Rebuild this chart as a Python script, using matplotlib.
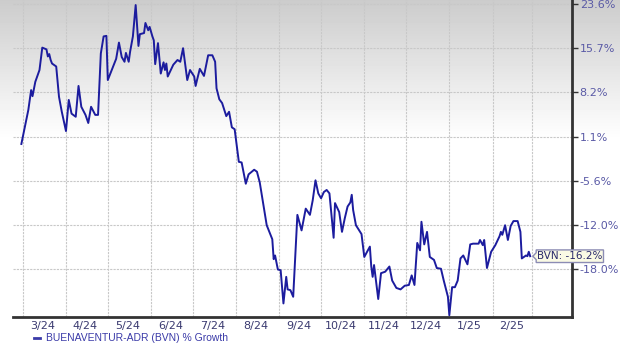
import numpy as np
import pandas as pd
import matplotlib
matplotlib.use('Agg')
import matplotlib.pyplot as plt
import matplotlib.dates as mdates
import matplotlib.ticker as mticker
from matplotlib.transforms import ScaledTranslation
from matplotlib.patches import Polygon
from matplotlib.lines import Line2D

# BVN % growth since end of Feb 2024
dates = [
    '2024-02-29', '2024-03-05', '2024-03-07', '2024-03-08', '2024-03-10', '2024-03-13', '2024-03-15',
    '2024-03-18', '2024-03-19', '2024-03-20', '2024-03-21', '2024-03-22', '2024-03-25', '2024-03-27',
    '2024-03-29', '2024-04-01', '2024-04-03', '2024-04-05', '2024-04-08', '2024-04-10', '2024-04-12',
    '2024-04-15', '2024-04-17', '2024-04-19', '2024-04-22', '2024-04-24', '2024-04-26', '2024-04-28',
    '2024-04-30', '2024-05-01', '2024-05-07', '2024-05-09', '2024-05-11', '2024-05-13', '2024-05-14',
    '2024-05-16', '2024-05-17', '2024-05-19', '2024-05-21', '2024-05-23', '2024-05-24', '2024-05-27',
    '2024-05-28', '2024-05-30', '2024-05-31', '2024-06-02', '2024-06-03', '2024-06-04', '2024-06-06',
    '2024-06-08', '2024-06-10', '2024-06-11', '2024-06-12', '2024-06-13', '2024-06-17', '2024-06-20',
    '2024-06-22', '2024-06-24', '2024-06-27', '2024-06-29', '2024-07-02', '2024-07-03', '2024-07-04',
    '2024-07-06', '2024-07-09', '2024-07-12', '2024-07-15', '2024-07-17', '2024-07-18', '2024-07-20',
    '2024-07-22', '2024-07-24', '2024-07-25', '2024-07-27', '2024-07-29', '2024-07-31', '2024-08-03',
    '2024-08-05', '2024-08-08', '2024-08-10', '2024-08-14', '2024-08-16', '2024-08-18', '2024-08-23',
    '2024-08-27', '2024-08-28', '2024-08-29', '2024-08-31', '2024-09-02', '2024-09-04', '2024-09-06',
    '2024-09-07', '2024-09-09', '2024-09-11', '2024-09-14', '2024-09-17', '2024-09-20', '2024-09-23',
    '2024-09-25', '2024-09-27', '2024-09-29', '2024-10-01', '2024-10-03', '2024-10-05', '2024-10-07',
    '2024-10-10', '2024-10-11', '2024-10-14', '2024-10-16', '2024-10-18', '2024-10-20', '2024-10-22',
    '2024-10-23', '2024-10-24', '2024-10-26', '2024-10-30', '2024-11-01', '2024-11-05', '2024-11-06',
    '2024-11-07', '2024-11-08', '2024-11-11', '2024-11-13', '2024-11-16', '2024-11-19', '2024-11-21',
    '2024-11-24', '2024-11-27', '2024-11-30', '2024-12-03', '2024-12-05', '2024-12-07', '2024-12-09',
    '2024-12-11', '2024-12-12', '2024-12-14', '2024-12-16', '2024-12-18', '2024-12-21', '2024-12-23',
    '2024-12-26', '2024-12-28', '2024-12-31', '2025-01-01', '2025-01-03', '2025-01-05', '2025-01-07',
    '2025-01-09', '2025-01-11', '2025-01-14', '2025-01-16', '2025-01-18', '2025-01-22', '2025-01-23',
    '2025-01-25', '2025-01-26', '2025-01-28', '2025-01-31', '2025-02-03', '2025-02-06', '2025-02-07',
    '2025-02-08', '2025-02-10', '2025-02-12', '2025-02-14', '2025-02-16', '2025-02-19', '2025-02-21',
    '2025-02-22', '2025-02-25', '2025-02-26', '2025-02-27', '2025-02-28',
]
growth = [
    0.0, 5.4, 8.6, 7.6, 10.0, 12.0, 15.8,
    15.5, 14.3, 14.7, 13.7, 13.1, 12.6, 7.5,
    5.1, 2.0, 7.0, 4.8, 4.3, 9.3, 5.9,
    4.6, 3.3, 5.9, 4.6, 4.6, 14.8, 17.8,
    17.9, 10.3, 13.9, 16.7, 14.2, 13.4, 14.9,
    13.4, 15.1, 17.8, 23.4, 16.1, 18.2, 18.4,
    20.2, 18.9, 19.5, 17.8, 17.1, 13.0, 16.6,
    11.4, 13.3, 12.0, 13.1, 10.9, 12.9, 13.7,
    13.4, 15.7, 10.3, 12.0, 10.9, 9.3, 10.3,
    12.2, 11.0, 14.5, 14.5, 13.4, 8.9, 7.1,
    6.5, 5.1, 4.4, 5.1, 2.6, 2.3, -2.7,
    -2.8, -6.0, -4.6, -3.9, -4.2, -5.8, -12.0,
    -13.9, -16.6, -16.1, -18.0, -18.1, -22.6, -19.0,
    -20.7, -20.8, -21.7, -10.5, -12.7, -9.6, -10.5,
    -8.4, -5.5, -7.4, -8.1, -7.2, -6.9, -7.4,
    -13.7, -8.8, -10.1, -12.9, -11.0, -9.3, -8.7,
    -7.6, -9.8, -12.0, -13.2, -16.3, -14.9, -17.6,
    -19.0, -17.4, -22.0, -18.5, -18.3, -17.6, -19.5,
    -20.5, -20.7, -20.2, -20.1, -18.8, -20.1, -14.4,
    -15.4, -11.5, -14.6, -12.9, -16.3, -16.7, -17.8,
    -17.9, -19.5, -21.7, -24.2, -20.4, -20.4, -19.5,
    -16.5, -16.1, -17.3, -14.6, -14.5, -14.5, -14.0,
    -14.7, -14.0, -17.8, -15.6, -14.7, -13.5, -12.9,
    -13.3, -12.0, -14.0, -12.1, -11.4, -11.4, -12.9,
    -16.5, -16.1, -16.2, -15.6, -16.2,
]

y_ticks = [-18.0, -12.0, -5.6, 1.1, 8.2, 15.7, 23.6]
month_starts = pd.date_range('2024-03-01', '2025-03-01', freq='MS')
label_months = month_starts[:-1] + pd.Timedelta(days=14)

x = pd.to_datetime(dates)

# the y axis spaces its labels evenly, so map values piecewise between them
_pos = np.arange(len(y_ticks))


def fwd(v):
    v = np.asarray(v, dtype=float)
    i = np.interp(v, y_ticks, _pos)
    i = np.where(v < y_ticks[0], (v - y_ticks[0]) / 6.0, i)
    i = np.where(v > y_ticks[-1], 6 + (v - y_ticks[-1]) / 7.9, i)
    return i


def inv(i):
    i = np.asarray(i, dtype=float)
    v = np.interp(i, _pos, y_ticks)
    v = np.where(i < 0, y_ticks[0] + i * 6.0, v)
    v = np.where(i > 6, y_ticks[-1] + (i - 6) * 7.9, v)
    return v


fig = plt.figure(figsize=(6.2, 3.53), dpi=100)

# grey fade at the top
bg = fig.add_axes([0, 0, 1, 1], zorder=-10)
grad = np.concatenate([np.linspace(0.80, 1.0, 140), np.ones(213)])
bg.imshow(grad[:, None] * np.ones((1, 2)), cmap='gray', vmin=0, vmax=1,
          aspect='auto', extent=[0, 1, 0, 1])
bg.axis('off')

ax = fig.add_axes([13 / 620, 1 - 316.7 / 353, 559 / 620, 316.7 / 353])
ax.patch.set_alpha(0)
ax.set_yscale('function', functions=(fwd, inv))
ax.plot(x, growth, color='#1c1c9e', lw=1.4, zorder=4)
ax.set_ylim(-24.4, 24.3)
ax.set_xlim(pd.Timestamp('2024-02-23'), pd.Timestamp('2025-03-30'))

ax.yaxis.tick_right()
ax.yaxis.set_major_locator(mticker.FixedLocator(y_ticks))
ax.yaxis.set_major_formatter(mticker.FuncFormatter(lambda v, p: f'{v:.1f}%'))
ax.yaxis.set_minor_locator(mticker.NullLocator())
ax.tick_params(axis='y', length=4, width=1, color='#333333', pad=1.5,
               labelsize=8, labelcolor='#5a5aa6')

ax.xaxis.set_major_locator(mticker.FixedLocator(mdates.date2num(month_starts)))
ax.xaxis.set_major_formatter(mticker.NullFormatter())
ax.xaxis.set_minor_locator(mticker.FixedLocator(mdates.date2num(label_months)))
ax.xaxis.set_minor_formatter(mticker.FuncFormatter(
    lambda v, p: f"{mdates.num2date(v).month}/{mdates.num2date(v):%y}"))
ax.tick_params(axis='x', which='both', length=0, pad=3, labelsize=8,
               labelcolor='#3a3a70')

ax.grid(True, which='major', color='#c8c8c8', lw=0.8, ls=(0, (2, 1)))
for s in ['left', 'top']:
    ax.spines[s].set_visible(False)
for s in ['bottom', 'right']:
    ax.spines[s].set_color('#333333')
    ax.spines[s].set_linewidth(2)

# end-of-line value tag
trans = fig.dpi_scale_trans + ScaledTranslation(
    mdates.date2num(x[-1]), growth[-1], ax.transData)
tag = Polygon([(0.027, 0), (0.06, 0.035), (0.06, 0.063), (0.733, 0.063), (0.733, -0.063),
               (0.06, -0.063), (0.06, -0.035)], closed=True, transform=trans,
              facecolor='#fafae4', edgecolor='#8c8cb4', lw=1, zorder=6, clip_on=False)
ax.add_patch(tag)
ax.text(0.40, 0, f'BVN: {growth[-1]:.1f}%', transform=trans, ha='center', va='center',
        fontsize=7.5, color='#2a2a6a', zorder=7)

# legend
fig.add_artist(Line2D([34 / 620, 40 / 620], [1 - 338 / 353] * 2, color='#3a3aa8', lw=2))
fig.text(46 / 620, 1 - 338 / 353, 'BUENAVENTUR-ADR (BVN) % Growth', color='#3a3aa8',
         fontsize=7.5, family='Liberation Sans', va='center')

fig.savefig('out.png', dpi=100)
